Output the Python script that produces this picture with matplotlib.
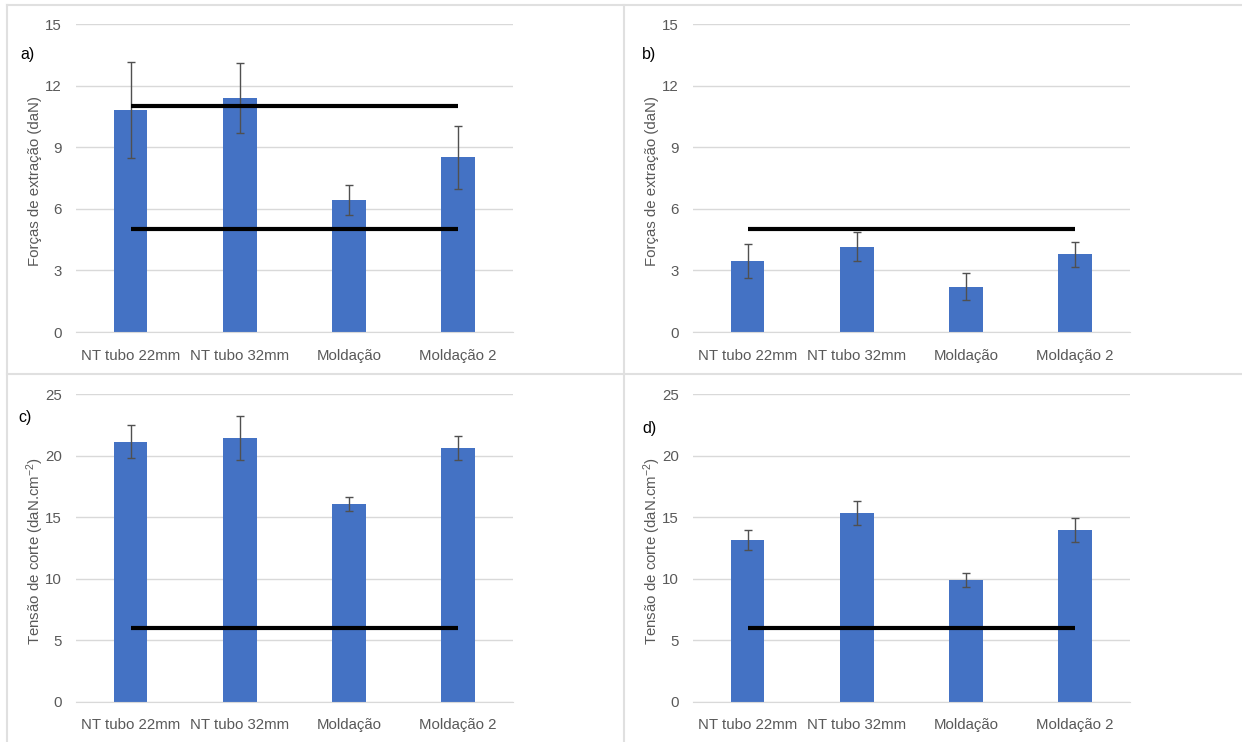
import matplotlib.pyplot as plt
from matplotlib.lines import Line2D

plt.rcParams['font.family'] = ['Liberation Sans', 'DejaVu Sans']
plt.rcParams['mathtext.default'] = 'regular'

categories = ['NT tubo 22mm', 'NT tubo 32mm', 'Moldação', 'Moldação 2']

# a) extraction force, series 1
force_a = [10.8, 11.4, 6.43, 8.5]
force_a_err = [2.35, 1.7, 0.73, 1.54]
limits_a = [11, 5]

# b) extraction force, series 2
force_b = [3.46, 4.16, 2.21, 3.78]
force_b_err = [0.85, 0.7, 0.66, 0.62]
limits_b = [5]

# c) shear stress, series 1
shear_c = [21.13, 21.43, 16.09, 20.62]
shear_c_err = [1.35, 1.8, 0.58, 0.95]
limits_c = [6]

# d) shear stress, series 2
shear_d = [13.13, 15.33, 9.88, 13.97]
shear_d_err = [0.8, 1.0, 0.55, 1.0]
limits_d = [6]

force_ticks = [0, 3, 6, 9, 12, 15]
shear_ticks = [0, 5, 10, 15, 20, 25]

BAR = '#4472C4'
GRID = '#D9D9D9'
TXT = '#595959'

W, H = 1242, 742
fig = plt.figure(figsize=(W / 100, H / 100), dpi=100)


def fx(px):
    return px / W


def fy(py):
    return 1 - py / H


# panel borders
for l in [Line2D([fx(7), 1], [fy(5), fy(5)]),
          Line2D([fx(7), fx(7)], [0, fy(5)]),
          Line2D([fx(624), fx(624)], [0, fy(5)]),
          Line2D([fx(7), 1], [fy(374), fy(374)])]:
    l.set_color('#E0E0E0')
    l.set_linewidth(1.5)
    fig.add_artist(l)


def panel(rect, vals, errs, limits, ticks, ylabel, tag, tag_xy):
    ax = fig.add_axes(rect)
    x = range(len(categories))
    ax.bar(x, vals, width=0.31, color=BAR, zorder=2)
    ax.errorbar(x, vals, yerr=errs, fmt='none', ecolor='#505050',
                elinewidth=1, capsize=3, capthick=1, zorder=3)
    for y in limits:
        ax.hlines(y, 0, len(categories) - 1, colors='black', linewidth=3,
                  zorder=4)
    ax.set_xlim(-0.5, len(categories) - 0.5)
    ax.set_ylim(ticks[0], ticks[-1])
    ax.set_yticks(ticks)
    ax.set_xticks(list(x))
    ax.set_xticklabels(categories)
    ax.grid(axis='y', color=GRID, linewidth=1, zorder=0)
    ax.set_axisbelow(True)
    for s in ['top', 'right', 'left']:
        ax.spines[s].set_visible(False)
    ax.spines['bottom'].set_color(GRID)
    ax.tick_params(length=0, labelsize=10.8, labelcolor=TXT)
    ax.tick_params(axis='y', pad=10)
    ax.tick_params(axis='x', pad=12)
    ax.text(-0.094, 0.49, ylabel, transform=ax.transAxes, rotation=90,
            ha='center', va='center', fontsize=10.8, color=TXT)
    ax.text(tag_xy[0], tag_xy[1], tag, transform=ax.transAxes,
            ha='left', va='center', fontsize=11.5, color='black')
    return ax


top_b, top_h = fy(332), 308 / H
bot_b, bot_h = fy(701.7), 307.4 / H
lx, rx, w = fx(76), fx(693), 436.5 / W

panel([lx, top_b, w, top_h], force_a, force_a_err, limits_a, force_ticks,
      'Forças de extração (daN)', 'a)', (-0.128, 0.9))
panel([rx, top_b, w, top_h], force_b, force_b_err, limits_b, force_ticks,
      'Forças de extração (daN)', 'b)', (-0.117, 0.9))
panel([lx, bot_b, w, bot_h], shear_c, shear_c_err, limits_c, shear_ticks,
      'Tensão de corte (daN.cm$^{-2}$)', 'c)', (-0.132, 0.924))
panel([rx, bot_b, w, bot_h], shear_d, shear_d_err, limits_d, shear_ticks,
      'Tensão de corte (daN.cm$^{-2}$)', 'd)', (-0.117, 0.889))

fig.savefig('out.png', dpi=100)
